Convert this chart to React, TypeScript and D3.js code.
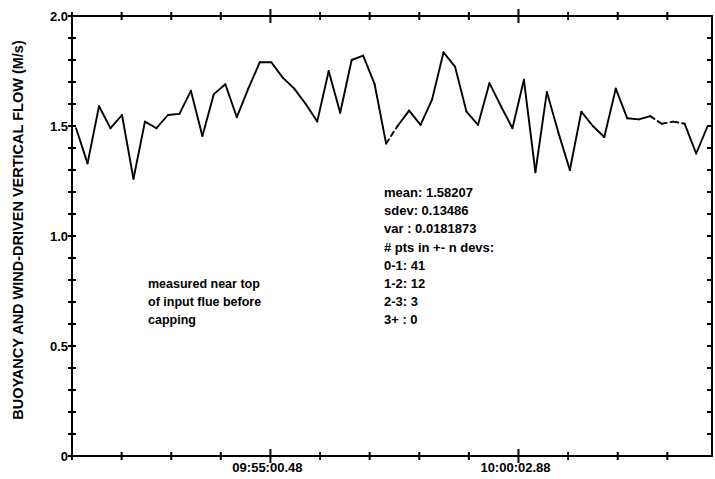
import React, { useEffect, useRef } from 'react';
import * as d3 from 'd3';

// flow samples (M/s), one every sampleStepSec seconds
const flowValues: number[] = [
  1.49, 1.33, 1.59, 1.49, 1.55, 1.26, 1.52, 1.49, 1.55, 1.555,
  1.66, 1.455, 1.645, 1.69, 1.54, 1.67, 1.79, 1.79, 1.72, 1.67,
  1.6, 1.52, 1.75, 1.56, 1.8, 1.82, 1.69, 1.42, 1.5, 1.57,
  1.505, 1.62, 1.835, 1.77, 1.565, 1.505, 1.695, 1.59, 1.49, 1.71,
  1.29, 1.655, 1.47, 1.3, 1.565, 1.5, 1.45, 1.67, 1.535, 1.53,
  1.545, 1.51, 1.52, 1.51, 1.375, 1.5,
];
// segments (index of first point) that print faint / broken in the original
const faintSegments: number[] = [27, 50, 51, 52];

const sampleStart = '09:51:03.50';
const sampleStepSec = 14;
const axisStart = '09:50:58.56';
const axisEnd = '10:03:58.80';
const tickStepSec = 60.48;
const xTickLabels: string[] = ['09:55:00.48', '10:00:02.88'];
const yTickLabels: string[] = ['0', '0.5', '1.0', '1.5', '2.0'];

const statsLines: string[] = [
  'mean: 1.58207',
  'sdev: 0.13486',
  'var : 0.0181873',
  '# pts in +- n devs:',
  '0-1: 41',
  '1-2: 12',
  '2-3: 3',
  '3+ : 0',
];
const noteLines: string[] = ['measured near top', 'of input flue before', 'capping'];

const yTitle = 'BUOYANCY AND WIND-DRIVEN VERTICAL FLOW (M/s)';

const parseT = (s: string) => {
  const [h, m, sec] = s.split(':');
  return new Date(2000, 0, 1, +h, +m, 0, Math.round(+sec * 1000));
};

const App = () => {
  const svgRef = useRef<SVGSVGElement>(null);
  const width = 715;
  const height = 479;
  const left = 72, right = 712, top = 16, bottom = 456;

  useEffect(() => {
    const svg = d3.select(svgRef.current);
    svg.selectAll('*').remove();
    const font = "'Liberation Sans', Arial, sans-serif";

    const t0 = parseT(axisStart);
    const t1 = parseT(axisEnd);
    const x = d3.scaleTime().domain([t0, t1]).range([left, right]);
    const y = d3.scaleLinear().domain([0, 2]).range([bottom, top]);

    const s0 = parseT(sampleStart).getTime();
    const data = flowValues.map((v, i) => ({ t: new Date(s0 + i * sampleStepSec * 1000), v }));

    const ink = '#000';
    const g = svg.append('g');

    // frame
    g.append('rect')
      .attr('x', left).attr('y', top)
      .attr('width', right - left).attr('height', bottom - top)
      .attr('fill', 'none').attr('stroke', ink).attr('stroke-width', 2);

    // x ticks (top and bottom)
    const majorTimes = xTickLabels.map(parseT).map(d => d.getTime());
    const tickTimes = d3.range(t0.getTime(), t1.getTime(), tickStepSec * 1000);
    tickTimes.forEach(ms => {
      const px = x(new Date(ms));
      const major = majorTimes.some(m => Math.abs(m - ms) < 50);
      const len = major ? 7 : 4;
      [top, bottom].forEach(yy => {
        g.append('line')
          .attr('x1', px).attr('x2', px)
          .attr('y1', yy - len).attr('y2', yy + len)
          .attr('stroke', ink).attr('stroke-width', 2);
      });
    });

    // y ticks every 0.1 (left crosses, right points inward)
    d3.range(0, 2.0001, 0.1).forEach(v => {
      const py = y(v);
      g.append('line')
        .attr('x1', left - 4).attr('x2', left + 4)
        .attr('y1', py).attr('y2', py)
        .attr('stroke', ink).attr('stroke-width', 2);
      g.append('line')
        .attr('x1', right - 5).attr('x2', right)
        .attr('y1', py).attr('y2', py)
        .attr('stroke', ink).attr('stroke-width', 2);
    });

    // y tick labels
    yTickLabels.forEach(lab => {
      g.append('text')
        .attr('x', left - 4).attr('y', y(+lab) + 5)
        .attr('text-anchor', 'end')
        .attr('font-family', font).attr('font-size', 13).attr('font-weight', 'bold')
        .text(lab);
    });

    // x tick labels
    xTickLabels.forEach(lab => {
      g.append('text')
        .attr('x', x(parseT(lab)) - 3).attr('y', bottom + 16)
        .attr('text-anchor', 'middle')
        .attr('font-family', font).attr('font-size', 13).attr('font-weight', 'bold')
        .text(lab);
    });

    // y title
    g.append('text')
      .attr('transform', `translate(23, 230) rotate(-90)`)
      .attr('text-anchor', 'middle')
      .attr('font-family', font).attr('font-size', 14.5).attr('font-weight', 'bold')
      .text(yTitle);

    // data line, segment by segment
    for (let i = 0; i < data.length - 1; i++) {
      const a = data[i], b = data[i + 1];
      const faint = faintSegments.includes(i);
      g.append('line')
        .attr('x1', x(a.t)).attr('y1', y(a.v))
        .attr('x2', x(b.t)).attr('y2', y(b.v))
        .attr('stroke', ink).attr('stroke-width', 1.9)
        .attr('stroke-linecap', 'round')
        .attr('stroke-dasharray', faint ? '5,4' : null);
    }

    // stats block
    statsLines.forEach((s, i) => {
      g.append('text')
        .attr('x', 384).attr('y', 197 + i * 18.2)
        .attr('font-family', font).attr('font-size', 13).attr('font-weight', 'bold')
        .text(s);
    });

    // note
    noteLines.forEach((s, i) => {
      g.append('text')
        .attr('x', 148).attr('y', 288 + i * 18.2)
        .attr('font-family', font).attr('font-size', 12.5).attr('font-weight', 'bold')
        .text(s);
    });
  }, []);

  return (
    <div style={{ position: 'absolute', left: 0, top: 0, background: '#fff' }}>
      <svg ref={svgRef} width={width} height={height} style={{ display: 'block' }} />
    </div>
  );
};

export default App;
